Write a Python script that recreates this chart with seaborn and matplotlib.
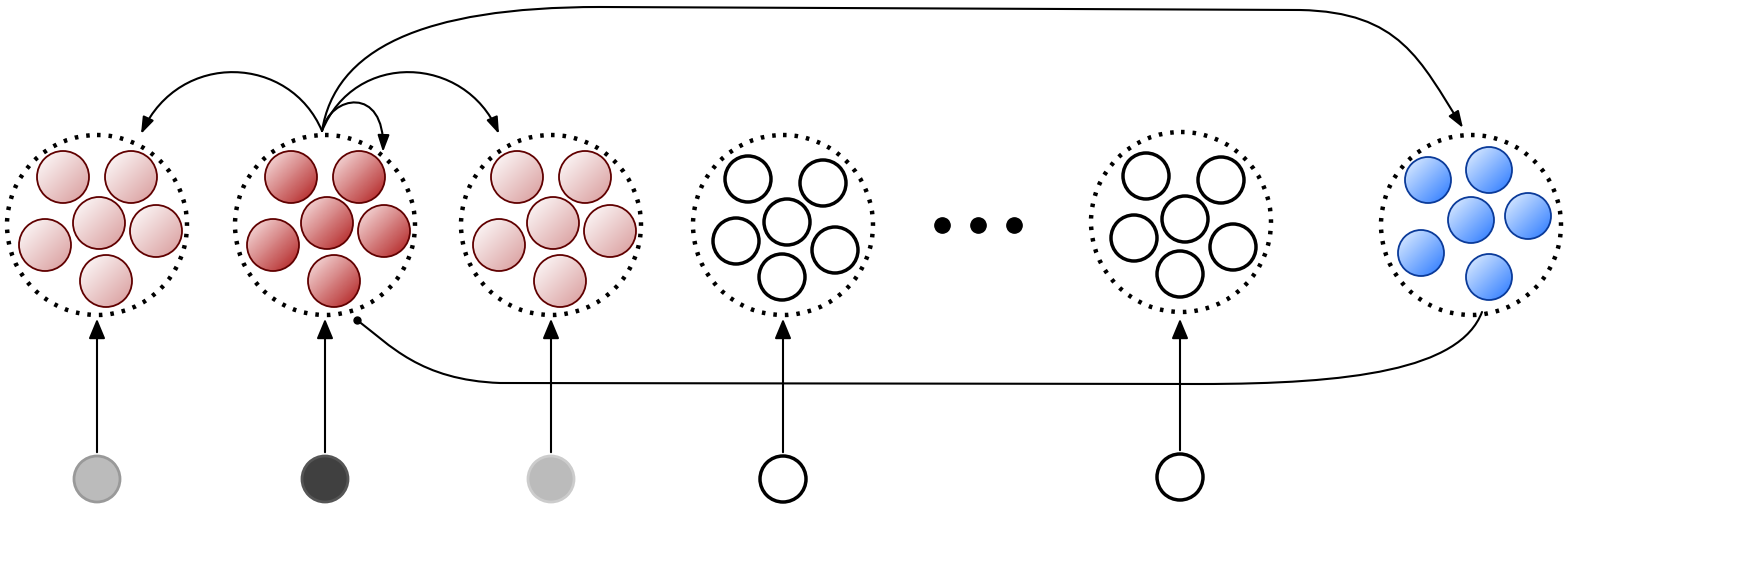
import numpy as np
import matplotlib
matplotlib.use("Agg")
import matplotlib.pyplot as plt
import seaborn as sns
from matplotlib.patches import Circle, FancyArrowPatch
from matplotlib.path import Path
from matplotlib.colors import LinearSegmentedColormap

sns.set_style("white")

# cluster centres (pixel coords) and their member offsets
cluster_x = [97, 325, 551, 783, 1181, 1471]
cluster_y = [225, 225, 225, 225, 222, 225]
red_offsets = [(-34, -48), (34, -48), (2, -2), (59, 6), (-52, 20), (9, 56)]
plain_offsets = [(-35, -46), (40, -42), (4, -3), (52, 25), (-47, 16), (-1, 52)]
blue_offsets = [(-43, -45), (18, -55), (0, -5), (57, -9), (-50, 28), (18, 52)]
cluster_kind = ["light", "dark", "light", "plain", "plain", "blue"]

bottom_x = [97, 325, 551, 783, 1180]
bottom_y = [479, 479, 479, 479, 477]
bottom_fill = ["#bbbbbb", "#404040", "#bbbbbb", "white", "white"]
bottom_edge = ["#999999", "#555555", "#cccccc", "black", "black"]
dots_x = [942, 978, 1014]

fig = plt.figure(figsize=(17.49, 5.67), dpi=100)
ax = fig.add_axes([0, 0, 1, 1])
ax.set_xlim(0, 1749)
ax.set_ylim(567, 0)
ax.set_aspect("equal")
ax.axis("off")

cmaps = {
    "light": (LinearSegmentedColormap.from_list("l", ["#ffffff", "#d89a9a"]), "#600000"),
    "dark": (LinearSegmentedColormap.from_list("d", ["#fbe8e8", "#b01c1c"]), "#600000"),
    "blue": (LinearSegmentedColormap.from_list("b", ["#e6f2ff", "#2878ff"]), "#0a3a99"),
}
g = np.linspace(0, 1, 64)
grad = (g[None, :] + g[:, None]) / 2


def grad_circle(x, y, r, kind):
    cmap, edge = cmaps[kind]
    im = ax.imshow(grad, cmap=cmap, extent=(x - r, x + r, y + r, y - r),
                   origin="upper", zorder=3, interpolation="bilinear")
    c = Circle((x, y), r, fc="none", ec=edge, lw=1.3, zorder=4)
    ax.add_patch(c)
    im.set_clip_path(c)


for cx, cy, kind in zip(cluster_x, cluster_y, cluster_kind):
    ax.add_patch(Circle((cx, cy), 90, fc="none", ec="black", lw=3.2,
                        ls=(0, (0.8, 1.8)), zorder=2))
    if kind == "plain":
        for dx, dy in plain_offsets:
            ax.add_patch(Circle((cx + dx, cy + dy), 23, fc="white", ec="black", lw=2.5, zorder=3))
    elif kind == "blue":
        for dx, dy in blue_offsets:
            grad_circle(cx + dx, cy + dy, 23, kind)
    else:
        for dx, dy in red_offsets:
            grad_circle(cx + dx, cy + dy, 26, kind)

for bx, by, fc, ec in zip(bottom_x, bottom_y, bottom_fill, bottom_edge):
    lw = 2.5 if fc == "white" else 2
    ax.add_patch(Circle((bx, by), 23, fc=fc, ec=ec, lw=lw, zorder=3))
    ax.add_patch(FancyArrowPatch((bx, by - 24), (bx, 316), arrowstyle="-|>,head_length=12,head_width=5",
                                 color="black", lw=1.5, zorder=3))

ax.plot(dots_x, [225] * 3, "o", color="black", ms=11)


def curve(verts, codes, style="-|>,head_length=10,head_width=3.5"):
    ax.add_patch(FancyArrowPatch(path=Path(verts, codes), arrowstyle=style,
                                 color="black", lw=1.5, zorder=5))


C4 = Path.CURVE4
src = (322, 131)
curve([src, (290, 55), (180, 50), (141, 134)], [Path.MOVETO, C4, C4, C4])
curve([src, (355, 50), (465, 55), (499, 134)], [Path.MOVETO, C4, C4, C4])
curve([src, (330, 95), (385, 85), (383, 152)], [Path.MOVETO, C4, C4, C4])
curve([src, (335, 50), (420, 7), (600, 7), (1300, 10), (1400, 12), (1420, 60), (1463, 128)],
      [Path.MOVETO, C4, C4, C4, Path.LINETO, C4, C4, C4])
curve([(1482, 312), (1460, 370), (1350, 384), (1200, 384), (500, 383),
       (420, 380), (390, 345), (357, 320)],
      [Path.MOVETO, C4, C4, C4, Path.LINETO, C4, C4, C4], style="-")
ax.plot([357], [320], "o", color="black", ms=5, zorder=6)

fig.savefig("out.png", dpi=100)
